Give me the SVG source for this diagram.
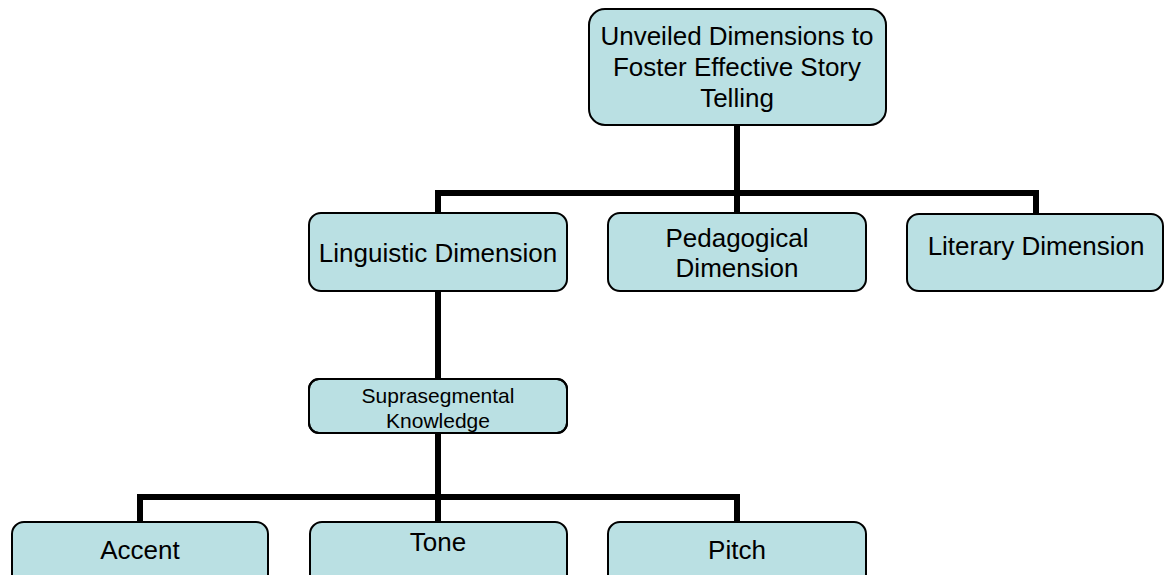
<svg xmlns="http://www.w3.org/2000/svg" width="1164" height="575" viewBox="0 0 1164 575">
<style>
.box{fill:#bae0e3;stroke:#000;stroke-width:2}
.t{font-family:"Liberation Sans",Arial,sans-serif;font-size:26px;fill:#000;text-anchor:middle}
.s{font-family:"Liberation Sans",Arial,sans-serif;font-size:21px;fill:#000;text-anchor:middle}
.c{fill:none;stroke:#000;stroke-width:6}
</style>
<defs>
<clipPath id="clipSup"><rect x="309" y="379" width="258" height="54" rx="10"/></clipPath>
</defs>
<rect width="1164" height="575" fill="#fff"/>
<g id="connectors">
<path class="c" d="M737 125 V193"/>
<path class="c" d="M438 213 V193 H1036 V214"/>
<path class="c" d="M737 193 V213"/>
<path class="c" d="M438 291 V379"/>
<path class="c" d="M438 433 V522"/>
<path class="c" d="M140 522 V497 H737 V522"/>
</g>
<g id="root">
<rect class="box" x="589" y="9" width="297" height="116" rx="16"/>
<text class="t" x="737" y="45">Unveiled Dimensions to</text>
<text class="t" x="737" y="76">Foster Effective Story</text>
<text class="t" x="737" y="107">Telling</text>
</g>
<g id="linguistic">
<rect class="box" x="309" y="213" width="258" height="78" rx="12"/>
<text class="t" x="438" y="262">Linguistic Dimension</text>
</g>
<g id="pedagogical">
<rect class="box" x="608" y="213" width="258" height="78" rx="12"/>
<text class="t" x="737" y="247">Pedagogical</text>
<text class="t" x="737" y="277">Dimension</text>
</g>
<g id="literary">
<rect class="box" x="907" y="214" width="256" height="77" rx="12"/>
<text class="t" x="1036" y="255">Literary Dimension</text>
</g>
<g id="suprasegmental">
<rect class="box" x="309" y="379" width="258" height="54" rx="10"/>
<g clip-path="url(#clipSup)">
<text class="s" x="438" y="403">Suprasegmental</text>
<text class="s" x="438" y="428">Knowledge</text>
</g>
<rect x="309" y="379" width="258" height="54" rx="10" fill="none" stroke="#000" stroke-width="2"/>
</g>
<g id="accent">
<rect class="box" x="12" y="522" width="256" height="66" rx="12"/>
<text class="t" x="140" y="559">Accent</text>
</g>
<g id="tone">
<rect class="box" x="310" y="522" width="257" height="66" rx="12"/>
<text class="t" x="438" y="551">Tone</text>
</g>
<g id="pitch">
<rect class="box" x="608" y="522" width="258" height="66" rx="12"/>
<text class="t" x="737" y="559">Pitch</text>
</g>
</svg>
